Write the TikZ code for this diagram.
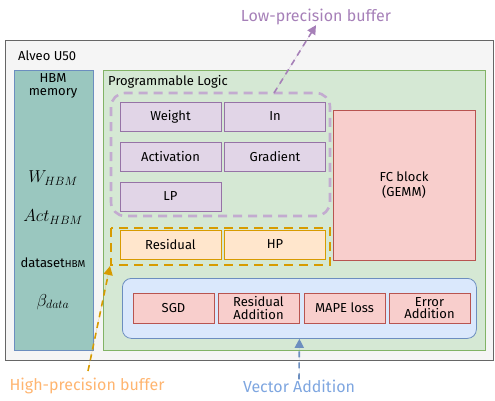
\documentclass[tikz,border=0pt]{standalone}
\usepackage{fontspec}
\setmainfont{Fira Sans}
\usetikzlibrary{arrows.meta}
\definecolor{outerfill}{HTML}{F5F5F5}
\definecolor{outerdraw}{HTML}{666666}
\definecolor{hbmfill}{HTML}{9AC7BF}
\definecolor{bluedraw}{HTML}{6C8EBF}
\definecolor{greenfill}{HTML}{D5E8D4}
\definecolor{greendraw}{HTML}{82B366}
\definecolor{purfill}{HTML}{E1D5E7}
\definecolor{purdraw}{HTML}{9673A6}
\definecolor{purdash}{HTML}{C3ABD0}
\definecolor{purlabel}{HTML}{A680B8}
\definecolor{redfill}{HTML}{F8CECC}
\definecolor{reddraw}{HTML}{B85450}
\definecolor{orfill}{HTML}{FFE6CC}
\definecolor{ordraw}{HTML}{D79B00}
\definecolor{orlabel}{HTML}{FFB570}
\definecolor{bluefill}{HTML}{DAE8FC}
\definecolor{bluelabel}{HTML}{7EA6E0}
\tikzset{
  every node/.style={font=\fontsize{13}{14.5}\selectfont, inner sep=0pt},
  box/.style={draw, line width=0.8pt, minimum width=#1, minimum height=29pt, align=center},
  box/.default=101pt,
  purbox/.style={box, fill=purfill, draw=purdraw},
  orbox/.style={box, fill=orfill, draw=ordraw},
  redbox/.style={box=81pt, minimum height=30pt, fill=redfill, draw=reddraw},
  lbl/.style={font=\fontsize{16}{18}\selectfont},
  mth/.style={font=\fontsize{16.5}{18}\selectfont},
  dasharrow/.style={line width=1.6pt, dash pattern=on 6pt off 5pt, -{Triangle[length=9pt,width=9pt]}},
}
\begin{document}
\begin{tikzpicture}[x=1pt,y=-1pt]
\useasboundingbox (0,0) rectangle (495,400);
% outer
\node[draw=outerdraw, fill=outerfill, line width=0.8pt, minimum width=488pt, minimum height=320pt, anchor=north west] (outer) at (5,40) {};
\node[anchor=west] (alveo) at (18,56) {Alveo U50};
% HBM
\node[draw=bluedraw, fill=hbmfill, line width=0.8pt, minimum width=79pt, minimum height=280pt, anchor=north west] (hbm) at (14,70) {};
\node[align=center, anchor=north] (hbmtitle) at (53,73) {HBM\\[-1pt]memory};
\node[mth] (w) at (53,178) {$W_{HBM}$};
\node[mth] (act) at (53,217) {$Act_{HBM}$};
\node (ds) at (53,263) {dataset{\fontsize{10}{10}\selectfont HBM}};
\node[mth] (beta) at (53,302) {$\beta_{data}$};
% PL
\node[draw=greendraw, fill=greenfill, line width=0.8pt, minimum width=382pt, minimum height=280pt, anchor=north west] (pl) at (103,70) {};
\node[anchor=west] (pltitle) at (108,82) {Programmable Logic};
% purple buffers
\node[purbox] (weight) at (170.5,116.5) {Weight};
\node[purbox] (in) at (275,116.5) {In};
\node[purbox] (activation) at (170.5,156.5) {Activation};
\node[purbox] (gradient) at (275,156.5) {Gradient};
\node[purbox] (lp) at (170.5,196.5) {LP};
\draw[purdash, line width=2.6pt, dash pattern=on 9pt off 6pt, rounded corners=14pt] (111,93) rectangle (330,216);
\coordinate (lpsrc) at (274,93);
% FC block
\node[draw=reddraw, fill=redfill, line width=0.8pt, minimum width=142pt, minimum height=150pt, anchor=north west, align=center] (fc) at (333,110) {};
\node[align=center] (fctext) at (404,185) {FC block\\(GEMM)};
% orange buffers
\node[orbox] (residual) at (170.5,244.5) {Residual};
\node[orbox] (hp) at (275,244.5) {HP};
\draw[ordraw, line width=2.6pt, dash pattern=on 9pt off 6pt] (111,228) rectangle (330,265);
% vector addition
\node[draw=bluedraw, fill=bluefill, line width=0.8pt, rounded corners=9pt, minimum width=354pt, minimum height=60pt, anchor=north west] (vec) at (122,278) {};
\node[redbox] (sgd) at (173.5,308) {SGD};
\node[redbox, align=center] (resadd) at (258.5,308) {Residual\\[-2pt]Addition};
\node[redbox] (mape) at (344.5,308) {MAPE loss};
\node[redbox, align=center] (erradd) at (429.5,308) {Error\\[-2pt]Addition};
% labels and arrows
\node[lbl, text=purlabel] (lplabel) at (316,17) {Low-precision buffer};
\node[lbl, text=orlabel] (hplabel) at (87,386) {High-precision buffer};
\node[lbl, text=bluelabel] (valabel) at (299,386) {Vector Addition};
\draw[dasharrow, draw=purlabel, fill=purlabel] (lpsrc) -- (lplabel.south);
\coordinate (hpsrc) at (88,371);
\coordinate (hptgt) at (110,266);
\draw[dasharrow, draw=ordraw, fill=ordraw] (hpsrc) -- (hptgt);
\draw[dasharrow, draw=bluedraw, fill=bluedraw] (valabel.north) -- (vec.south);
\end{tikzpicture}
\end{document}
